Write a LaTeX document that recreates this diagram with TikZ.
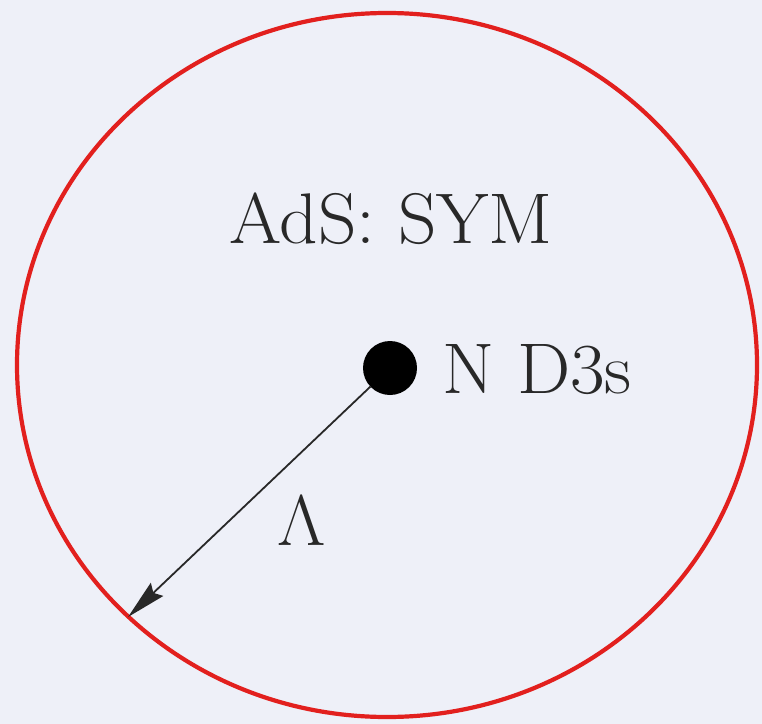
\RequirePackage{fix-cm}
\documentclass[tikz,border=0pt]{standalone}
\usetikzlibrary{arrows.meta}
\definecolor{bg}{RGB}{238,240,248}
\definecolor{ringred}{RGB}{226,32,30}
\definecolor{ink}{RGB}{40,40,40}
\begin{document}
\begin{tikzpicture}[x=1bp,y=-1bp,
  lbl/.style={inner sep=0pt,text=ink,xscale=1.05,font=\fontsize{72}{84}\selectfont},
  ring/.style={draw=ringred,line width=4.2bp},
  dotnode/.style={circle,fill=black,inner sep=0pt,minimum size=54bp},
  radiusarrow/.style={draw=ink,line width=1.8bp,-{Stealth[length=40bp,width=18bp,inset=5bp]}}]
\useasboundingbox[fill=bg] (0,0) rectangle (762,724);
\draw[ring] (387,365) ellipse [x radius=370, y radius=352];
\node[dotnode] (dot) at (390,368) {};
\coordinate (tip) at (128,617);
\draw[radiusarrow] (dot) -- (tip);
\node[lbl,anchor=base west] (ads) at (229,243) {AdS: SYM};
\node[lbl,anchor=base west] (d3) at (442,393) {N D3s};
\node[lbl,anchor=base] (lam) at (302,545) {$\Lambda$};
\end{tikzpicture}
\end{document}
